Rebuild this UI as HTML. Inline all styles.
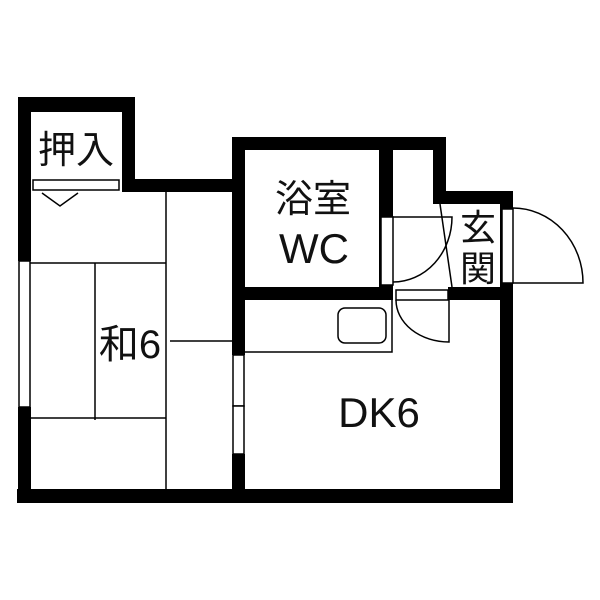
<!DOCTYPE html><html><head><meta charset="utf-8"><style>body{margin:0;background:#fff}svg{display:block}text{font-family:"Liberation Sans","Noto Sans CJK JP",sans-serif;fill:#111}</style></head><body>
<svg width="600" height="600" viewBox="0 0 600 600">
<g fill="#000">
<rect x="18" y="97" width="117" height="15"/>
<rect x="18" y="97" width="13" height="164"/>
<rect x="122" y="97" width="13" height="95"/>
<rect x="122" y="179" width="123" height="13"/>
<rect x="232" y="137" width="13" height="218"/>
<rect x="232" y="137" width="214" height="13"/>
<rect x="379" y="137" width="14" height="163"/>
<rect x="433" y="137" width="13" height="67"/>
<rect x="433" y="191" width="80" height="13"/>
<rect x="500" y="191" width="13" height="312"/>
<rect x="232" y="287" width="161" height="13"/>
<rect x="448" y="287" width="65" height="13"/>
<rect x="18" y="407" width="13" height="96"/>
<rect x="232" y="454" width="13" height="49"/>
<rect x="17" y="489" width="496" height="14"/>
</g>
<g fill="#fff" stroke="#000" stroke-width="1.5">
<rect x="19" y="261" width="11" height="146"/>
<rect x="233" y="355" width="11" height="51"/>
<rect x="233" y="406" width="11" height="48"/>
<rect x="33" y="180" width="86" height="10"/>
<rect x="381" y="217" width="12" height="68"/>
<rect x="502" y="209" width="11" height="74"/>
<rect x="396" y="290" width="52" height="10"/>
</g>
<g fill="none" stroke="#000" stroke-width="1.5">
<path d="M42 193 L60 206 L78 193"/>
<path d="M166 192 V489 M30 263 H166 M95 263 V420 M30 418 H166 M170 341 H232"/>
<path d="M393 217 H452 A59 65 0 0 1 393 282"/>
<path d="M440 204 L452 287"/>
<path d="M513 208 A70 75 0 0 1 583 283 H513"/>
<path d="M449 300 V342 A53 42 0 0 1 396 300"/>
<path d="M245 352 H392 V300"/>
<rect x="338" y="308" width="48" height="35" rx="7"/>
</g>
<text x="76" y="163" font-size="38" text-anchor="middle">押入</text>
<text x="313" y="212" font-size="38" text-anchor="middle">浴室</text>
<text x="314" y="263" font-size="42" text-anchor="middle">WC</text>
<text x="478" y="240" font-size="36" text-anchor="middle">玄</text>
<text x="478" y="281" font-size="36" text-anchor="middle">関</text>
<text x="130" y="358" font-size="40" text-anchor="middle">和6</text>
<text x="379" y="427" font-size="42" text-anchor="middle">DK6</text>
</svg></body></html>
